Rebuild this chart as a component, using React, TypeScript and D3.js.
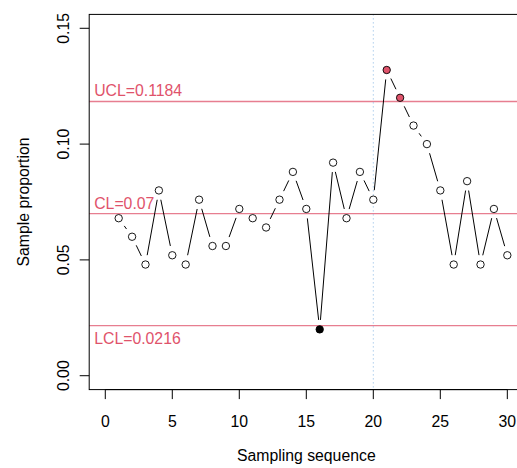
import React from 'react'
import * as d3 from 'd3'

// sample proportions per sampling sequence (n = 250)
const samples = d3.range(1, 31)
const proportions = [
  0.068, 0.060, 0.048, 0.080, 0.052, 0.048, 0.076, 0.056, 0.056, 0.072,
  0.068, 0.064, 0.076, 0.088, 0.072, 0.020, 0.092, 0.068, 0.088, 0.076,
  0.132, 0.120, 0.108, 0.100, 0.080, 0.048, 0.084, 0.048, 0.072, 0.052,
]
const limits = [
  {name: 'UCL', value: 0.1184, label: 'UCL=0.1184'},
  {name: 'CL', value: 0.07, label: 'CL=0.07'},
  {name: 'LCL', value: 0.0216, label: 'LCL=0.0216'},
]
const xTicks = [0, 5, 10, 15, 20, 25, 30]
const yTicks = [0, 0.05, 0.1, 0.15]
const phaseBreak = 20

const layout = {width: 517, height: 468, left: 89.2, top: 14.4, right: 523.4, bottom: 389.6}
const red = '#DF536B'
const font = '"Liberation Sans", Arial, sans-serif'
const fontSize = 15.8

export default function App() {
  // R style 4% padding on both axes
  const xScale = d3.scaleLinear().domain([-1.2, 31.2]).range([layout.left, layout.right])
  const yScale = d3.scaleLinear().domain([-0.006, 0.156]).range([layout.bottom, layout.top])

  const ucl = limits[0].value
  const lcl = limits[2].value
  const pts = samples.map((s, i) => ({x: xScale(s), y: yScale(proportions[i]), v: proportions[i]}))

  // type = "b": segments trimmed around each point
  const gap = 9.5
  const segments = []
  for (let i = 0; i < pts.length - 1; i++) {
    const a = pts[i], b = pts[i + 1]
    const dx = b.x - a.x, dy = b.y - a.y
    const dist = Math.sqrt(dx * dx + dy * dy)
    if (dist <= 2 * gap) continue
    const ux = dx / dist, uy = dy / dist
    segments.push({x1: a.x + ux * gap, y1: a.y + uy * gap, x2: b.x - ux * gap, y2: b.y - uy * gap})
  }

  const plotMidY = (layout.top + layout.bottom) / 2
  const plotMidX = (layout.left + layout.right) / 2

  return (
    <svg width={layout.width} height={layout.height} style={{position: 'absolute', left: 0, top: 0}}
      fontFamily={font} fontSize={fontSize}>
      <rect width={layout.width} height={layout.height} fill="white" />

      {/* control limits */}
      <g id="limits">
        {limits.map(l => (
          <line key={l.name} x1={layout.left} x2={layout.right} y1={yScale(l.value)} y2={yScale(l.value)}
            stroke={red} strokeOpacity={0.75} strokeWidth={1.3} />
        ))}
        {limits.map(l => (
          <text key={l.name} x={layout.left + 5} y={l.name === 'LCL' ? yScale(l.value) + 18.5 : yScale(l.value) - 5}
            fill={red}>{l.label}</text>
        ))}
      </g>

      <line x1={xScale(phaseBreak)} x2={xScale(phaseBreak)} y1={layout.top} y2={layout.bottom}
        stroke="#86B6E2" strokeDasharray="1,3" />

      <g id="series">
        {segments.map((s, i) => (
          <line key={i} {...s} stroke="black" strokeWidth={1} />
        ))}
        {pts.map((p, i) => {
          let fill = 'white'
          if (p.v > ucl) fill = red
          else if (p.v < lcl) fill = 'black'
          return <circle key={i} cx={p.x} cy={p.y} r={3.7} fill={fill} stroke="black" strokeWidth={0.9} />
        })}
      </g>

      <rect x={layout.left} y={layout.top} width={layout.right - layout.left} height={layout.bottom - layout.top}
        fill="none" stroke="black" strokeWidth={1} />

      <g id="xAxis">
        <line x1={xScale(0)} x2={xScale(30)} y1={layout.bottom} y2={layout.bottom} stroke="black" />
        {xTicks.map(t => (
          <g key={t}>
            <line x1={xScale(t)} x2={xScale(t)} y1={layout.bottom} y2={layout.bottom + 9.5} stroke="black" />
            <text x={xScale(t)} y={426.5} textAnchor="middle">{t}</text>
          </g>
        ))}
        <text x={plotMidX} y={461} textAnchor="middle">Sampling sequence</text>
      </g>

      <g id="yAxis">
        {yTicks.map(t => (
          <g key={t}>
            <line x1={layout.left - 9.5} x2={layout.left} y1={yScale(t)} y2={yScale(t)} stroke="black" />
            <text transform={`translate(68.5,${yScale(t)}) rotate(-90)`} textAnchor="middle">{t.toFixed(2)}</text>
          </g>
        ))}
        <text transform={`translate(28.5,${plotMidY}) rotate(-90)`} textAnchor="middle">Sample proportion</text>
      </g>
    </svg>
  )
}
